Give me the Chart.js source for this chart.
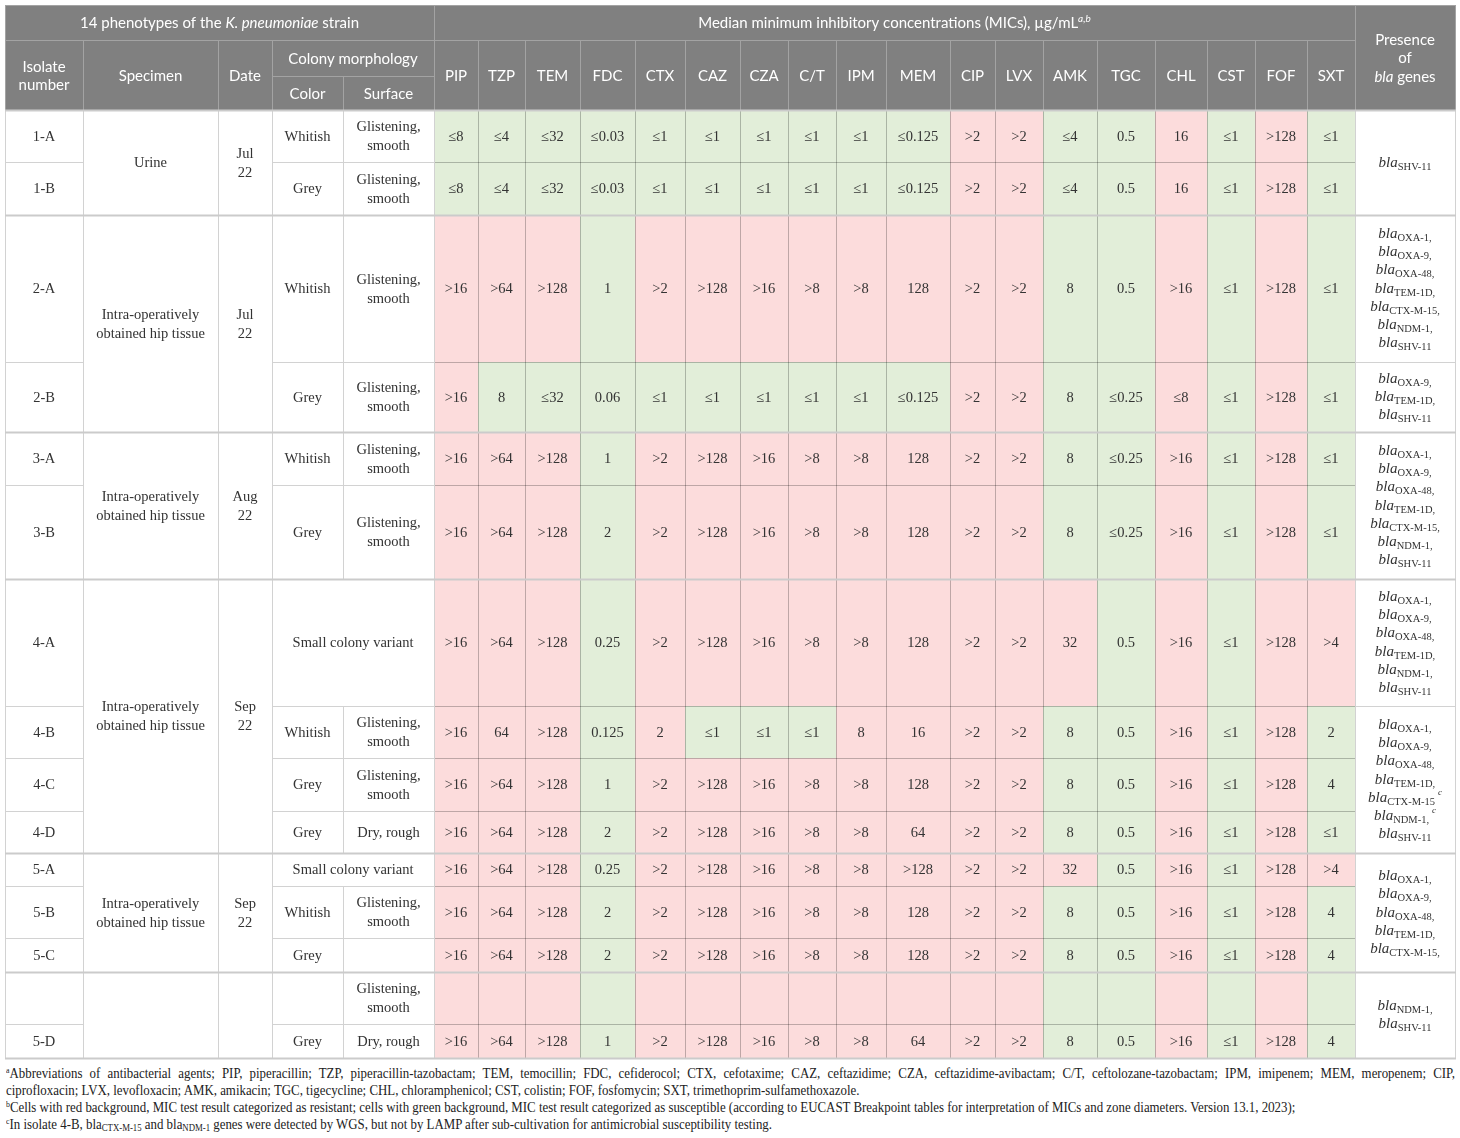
<!DOCTYPE html>
<html>
<head>
<meta charset="utf-8">
<title>MICs of 14 K. pneumoniae phenotypes</title>
<script src="https://cdn.jsdelivr.net/npm/chart.js@4.4.1/dist/chart.umd.min.js"></script>
<style>
  html, body { margin: 0; padding: 0; background: #fff; }
  #wrap { position: absolute; left: 0; top: 0; width: 1460px; height: 1062px; }
  #notes {
    position: absolute; left: 6px; top: 1065px; width: 1575px;
    transform: scaleX(0.92); transform-origin: 0 0;
    font-family: "Liberation Serif", "DejaVu Serif", serif;
    font-size: 14px; line-height: 17px; color: #222; white-space: nowrap;
  }
  #notes .just { text-align: justify; text-align-last: justify; }
  #notes sup { font-size: 8.5px; line-height: 0; vertical-align: 5px; }
  #notes sub { font-size: 9.5px; line-height: 0; vertical-align: -2px; }
</style>
</head>
<body>
<div id="wrap"><canvas id="chart" width="1460" height="1062"></canvas></div>
<div id="notes">
  <div class="just"><sup>a</sup>Abbreviations of antibacterial agents; PIP, piperacillin; TZP, piperacillin-tazobactam; TEM, temocillin; FDC, cefiderocol; CTX, cefotaxime; CAZ, ceftazidime; CZA, ceftazidime-avibactam; C/T, ceftolozane-tazobactam; IPM, imipenem; MEM, meropenem; CIP,</div>
  <div>ciprofloxacin; LVX, levofloxacin; AMK, amikacin; TGC, tigecycline; CHL, chloramphenicol; CST, colistin; FOF, fosfomycin; SXT, trimethoprim-sulfamethoxazole.</div>
  <div><sup>b</sup>Cells with red background, MIC test result categorized as resistant; cells with green background, MIC test result categorized as susceptible (according to EUCAST Breakpoint tables for interpretation of MICs and zone diameters. Version 13.1, 2023);</div>
  <div><sup>c</sup>In isolate 4-B, bla<sub>CTX-M-15</sub> and bla<sub>NDM-1</sub> genes were detected by WGS, but not by LAMP after sub-cultivation for antimicrobial susceptibility testing.</div>
</div>
<script>
// ---- data ----
const agents = ['PIP', 'TZP', 'TEM', 'FDC', 'CTX', 'CAZ', 'CZA', 'C/T', 'IPM', 'MEM', 'CIP', 'LVX', 'AMK', 'TGC', 'CHL', 'CST', 'FOF', 'SXT']

const isolates = ['1-A', '1-B', '2-A', '2-B', '3-A', '3-B', '4-A', '4-B', '4-C', '4-D', '5-A', '5-B', '5-C', '', '5-D']
const colonyColor = ['Whitish', 'Grey', 'Whitish', 'Grey', 'Whitish', 'Grey', 'Small colony variant', 'Whitish', 'Grey', 'Grey', 'Small colony variant', 'Whitish', 'Grey', '', 'Grey']
// null = merged with the colour cell
const colonySurface = ['Glistening,\nsmooth', 'Glistening,\nsmooth', 'Glistening,\nsmooth', 'Glistening,\nsmooth', 'Glistening,\nsmooth', 'Glistening,\nsmooth', null, 'Glistening,\nsmooth', 'Glistening,\nsmooth', 'Dry, rough', null, 'Glistening,\nsmooth', '', 'Glistening,\nsmooth', 'Dry, rough']

const specimens = ['Urine', 'Intra-operatively\nobtained hip tissue', 'Intra-operatively\nobtained hip tissue', 'Intra-operatively\nobtained hip tissue', 'Intra-operatively\nobtained hip tissue', '']
const dates = ['Jul\n22', 'Jul\n22', 'Aug\n22', 'Sep\n22', 'Sep\n22', '']
const specimenRows = [[0, 2], [2, 4], [4, 6], [6, 10], [10, 13], [13, 15]]

const mic1A = ['≤8', '≤4', '≤32', '≤0.03', '≤1', '≤1', '≤1', '≤1', '≤1', '≤0.125', '>2', '>2', '≤4', '0.5', '16', '≤1', '>128', '≤1']
const mic1B = ['≤8', '≤4', '≤32', '≤0.03', '≤1', '≤1', '≤1', '≤1', '≤1', '≤0.125', '>2', '>2', '≤4', '0.5', '16', '≤1', '>128', '≤1']
const mic2A = ['>16', '>64', '>128', '1', '>2', '>128', '>16', '>8', '>8', '128', '>2', '>2', '8', '0.5', '>16', '≤1', '>128', '≤1']
const mic2B = ['>16', '8', '≤32', '0.06', '≤1', '≤1', '≤1', '≤1', '≤1', '≤0.125', '>2', '>2', '8', '≤0.25', '≤8', '≤1', '>128', '≤1']
const mic3A = ['>16', '>64', '>128', '1', '>2', '>128', '>16', '>8', '>8', '128', '>2', '>2', '8', '≤0.25', '>16', '≤1', '>128', '≤1']
const mic3B = ['>16', '>64', '>128', '2', '>2', '>128', '>16', '>8', '>8', '128', '>2', '>2', '8', '≤0.25', '>16', '≤1', '>128', '≤1']
const mic4A = ['>16', '>64', '>128', '0.25', '>2', '>128', '>16', '>8', '>8', '128', '>2', '>2', '32', '0.5', '>16', '≤1', '>128', '>4']
const mic4B = ['>16', '64', '>128', '0.125', '2', '≤1', '≤1', '≤1', '8', '16', '>2', '>2', '8', '0.5', '>16', '≤1', '>128', '2']
const mic4C = ['>16', '>64', '>128', '1', '>2', '>128', '>16', '>8', '>8', '128', '>2', '>2', '8', '0.5', '>16', '≤1', '>128', '4']
const mic4D = ['>16', '>64', '>128', '2', '>2', '>128', '>16', '>8', '>8', '64', '>2', '>2', '8', '0.5', '>16', '≤1', '>128', '≤1']
const mic5A = ['>16', '>64', '>128', '0.25', '>2', '>128', '>16', '>8', '>8', '>128', '>2', '>2', '32', '0.5', '>16', '≤1', '>128', '>4']
const mic5B = ['>16', '>64', '>128', '2', '>2', '>128', '>16', '>8', '>8', '128', '>2', '>2', '8', '0.5', '>16', '≤1', '>128', '4']
const mic5C = ['>16', '>64', '>128', '2', '>2', '>128', '>16', '>8', '>8', '128', '>2', '>2', '8', '0.5', '>16', '≤1', '>128', '4']
const micBlank = ['', '', '', '', '', '', '', '', '', '', '', '', '', '', '', '', '', '']
const mic5D = ['>16', '>64', '>128', '1', '>2', '>128', '>16', '>8', '>8', '64', '>2', '>2', '8', '0.5', '>16', '≤1', '>128', '4']
const micRows = [mic1A, mic1B, mic2A, mic2B, mic3A, mic3B, mic4A, mic4B, mic4C, mic4D, mic5A, mic5B, mic5C, micBlank, mic5D]

// R = resistant (red), S = susceptible (green)
const micCategory = [
  'SSSSSSSSSSRRSSRSRS', 'SSSSSSSSSSRRSSRSRS',
  'RRRSRRRRRRRRSSRSRS', 'RSSSSSSSSSRRSSRSRS',
  'RRRSRRRRRRRRSSRSRS', 'RRRSRRRRRRRRSSRSRS',
  'RRRSRRRRRRRRRSRSRR', 'RRRSRSSSRRRRSSRSRS', 'RRRSRRRRRRRRSSRSRS', 'RRRSRRRRRRRRSSRSRS',
  'RRRSRRRRRRRRRSRSRR', 'RRRSRRRRRRRRSSRSRS', 'RRRSRRRRRRRRSSRSRS',
  'RRRSRRRRRRRRSSRSRS', 'RRRSRRRRRRRRSSRSRS'
]

const geneRows = [[0, 2], [2, 3], [3, 4], [4, 6], [6, 7], [7, 10], [10, 13], [13, 15]]
const genes = [
  ['SHV-11'],
  ['OXA-1,', 'OXA-9,', 'OXA-48,', 'TEM-1D,', 'CTX-M-15,', 'NDM-1,', 'SHV-11'],
  ['OXA-9,', 'TEM-1D,', 'SHV-11'],
  ['OXA-1,', 'OXA-9,', 'OXA-48,', 'TEM-1D,', 'CTX-M-15,', 'NDM-1,', 'SHV-11'],
  ['OXA-1,', 'OXA-9,', 'OXA-48,', 'TEM-1D,', 'NDM-1,', 'SHV-11'],
  ['OXA-1,', 'OXA-9,', 'OXA-48,', 'TEM-1D,', 'CTX-M-15^c', 'NDM-1,^c', 'SHV-11'],
  ['OXA-1,', 'OXA-9,', 'OXA-48,', 'TEM-1D,', 'CTX-M-15,'],
  ['NDM-1,', 'SHV-11']
]

// ---- layout (table units) ----
const colWidths = [78, 135, 54, 71, 91, 44, 47, 55, 55, 50, 55, 48, 48, 50, 64, 45, 48, 54, 58, 52, 48, 52, 48, 100]
const headHeights = [35, 36, 34]
const bodyHeights = [52, 53, 147, 70, 53, 94, 127, 52, 53, 42, 33, 52, 34, 52, 34]

const SERIF = '"Liberation Serif", "DejaVu Serif", serif'
const SANS = 'Lato, "Open Sans", "Noto Sans", sans-serif'
const RED = '#fcdcdc'
const GREEN = '#e2eed9'
const HEAD = '#808080'

const colEdge = [0]
colWidths.forEach(w => colEdge.push(colEdge[colEdge.length - 1] + w))
const rowEdge = [0]
headHeights.concat(bodyHeights).forEach(h => rowEdge.push(rowEdge[rowEdge.length - 1] + h))
const M = 5 // first MIC column
const H = headHeights.length

const micTable = {
  id: 'micTable',
  afterDraw(chart) {
    const ctx = chart.ctx
    const sx = chart.scales.x
    const sy = chart.scales.y
    const px = c => Math.round(sx.getPixelForValue(colEdge[c]))
    const py = r => Math.round(sy.getPixelForValue(rowEdge[r]))

    ctx.save()

    function fill(c0, c1, r0, r1, color) {
      ctx.fillStyle = color
      ctx.fillRect(px(c0), py(r0), px(c1) - px(c0), py(r1) - py(r0))
    }
    function frame(c0, c1, r0, r1, color) {
      ctx.strokeStyle = color
      ctx.lineWidth = 1
      ctx.strokeRect(px(c0) + 0.5, py(r0) + 0.5, px(c1) - px(c0), py(r1) - py(r0))
    }
    function hline(c0, c1, r, color, w) {
      ctx.strokeStyle = color
      ctx.lineWidth = w
      ctx.beginPath()
      ctx.moveTo(px(c0), py(r) + 0.5)
      ctx.lineTo(px(c1) + 1, py(r) + 0.5)
      ctx.stroke()
    }
    function lines(text, c0, c1, r0, r1, font, color, lh) {
      const parts = text.split('\n')
      const cx = (px(c0) + px(c1)) / 2
      const cy = (py(r0) + py(r1)) / 2 + 1
      ctx.font = font
      ctx.fillStyle = color
      ctx.textAlign = 'center'
      ctx.textBaseline = 'middle'
      parts.forEach((p, i) => ctx.fillText(p, cx, cy + (i - (parts.length - 1) / 2) * lh))
    }
    // runs of differently styled text, centred as one line
    function runs(list, cx, cy) {
      let total = 0
      list.forEach(r => { ctx.font = r.font; total += ctx.measureText(r.t).width })
      let x = cx - total / 2
      ctx.textAlign = 'left'
      ctx.textBaseline = 'middle'
      list.forEach(r => {
        ctx.font = r.font
        ctx.fillStyle = r.color || '#fff'
        ctx.fillText(r.t, x, cy + (r.dy || 0))
        x += ctx.measureText(r.t).width
      })
    }
    function gene(entry, cx, cy) {
      const [main, sup] = entry.split('^')
      const f1 = `italic 15px ${SERIF}`
      const f2 = `10.5px ${SERIF}`
      const f3 = `italic 9px ${SERIF}`
      ctx.font = f1
      const w1 = ctx.measureText('bla').width
      ctx.font = f2
      const w2 = ctx.measureText(main).width
      let w3 = 0
      if (sup) { ctx.font = f3; w3 = ctx.measureText(sup).width + 3 }
      const x0 = cx - (w1 + w2 + w3) / 2
      const base = cy + 4
      ctx.textAlign = 'left'
      ctx.textBaseline = 'alphabetic'
      ctx.fillStyle = '#333'
      ctx.font = f1
      ctx.fillText('bla', x0, base)
      ctx.font = f2
      ctx.fillText(main, x0 + w1, base + 3)
      if (sup) { ctx.font = f3; ctx.fillText(sup, x0 + w1 + w2 + 3, base - 7) }
    }

    // ---- header ----
    const last = colWidths.length
    fill(0, last, 0, H, HEAD)
    const hl = '#a3a3a3'
    frame(0, M, 0, 1, hl)
    frame(M, last - 1, 0, 1, hl)
    frame(last - 1, last, 0, H, hl)
    frame(0, 1, 1, H, hl)
    frame(1, 2, 1, H, hl)
    frame(2, 3, 1, H, hl)
    frame(3, 5, 1, 2, hl)
    frame(3, 4, 2, H, hl)
    frame(4, 5, 2, H, hl)
    agents.forEach((a, i) => frame(M + i, M + i + 1, 1, H, hl))

    const hf = `15px ${SANS}`
    const hfi = `italic 15px ${SANS}`
    runs([{ t: '14 phenotypes of the ', font: hf }, { t: 'K. pneumoniae', font: hfi }, { t: ' strain', font: hf }],
      (px(0) + px(M)) / 2, (py(0) + py(1)) / 2 + 1)
    runs([{ t: 'Median minimum inhibitory concentrations (MICs), µg/mL', font: hf }, { t: 'a,b', font: `italic 10px ${SANS}`, dy: -5 }],
      (px(M) + px(last - 1)) / 2, (py(0) + py(1)) / 2 + 1)
    const pcx = (px(last - 1) + px(last)) / 2
    const pcy = (py(0) + py(H)) / 2 + 1
    runs([{ t: 'Presence', font: hf }], pcx, pcy - 18.5)
    runs([{ t: 'of', font: hf }], pcx, pcy)
    runs([{ t: 'bla', font: hfi }, { t: ' genes', font: hf }], pcx, pcy + 18.5)
    lines('Isolate\nnumber', 0, 1, 1, H, hf, '#fff', 18.5)
    lines('Specimen', 1, 2, 1, H, hf, '#fff', 18.5)
    lines('Date', 2, 3, 1, H, hf, '#fff', 18.5)
    lines('Colony morphology', 3, 5, 1, 2, hf, '#fff', 18.5)
    lines('Color', 3, 4, 2, H, hf, '#fff', 18.5)
    lines('Surface', 4, 5, 2, H, hf, '#fff', 18.5)
    agents.forEach((a, i) => lines(a, M + i, M + i + 1, 1, H, hf, '#fff', 18.5))

    // ---- body ----
    const grid = '#d2d2d2'
    const bf = `14.5px ${SERIF}`
    const ink = '#333'
    micRows.forEach((row, r) => {
      row.forEach((v, i) => fill(M + i, M + i + 1, H + r, H + r + 1, micCategory[r][i] === 'R' ? RED : GREEN))
    })
    micRows.forEach((row, r) => {
      const rr = H + r
      row.forEach((v, i) => {
        frame(M + i, M + i + 1, rr, rr + 1, 'rgba(0,0,0,0.13)')
        if (v) lines(v, M + i, M + i + 1, rr, rr + 1, bf, ink, 19)
      })
      frame(0, 1, rr, rr + 1, grid)
      if (isolates[r]) lines(isolates[r], 0, 1, rr, rr + 1, bf, ink, 19)
      if (colonySurface[r] === null) {
        frame(3, 5, rr, rr + 1, grid)
        lines(colonyColor[r], 3, 5, rr, rr + 1, bf, ink, 19)
      } else {
        frame(3, 4, rr, rr + 1, grid)
        frame(4, 5, rr, rr + 1, grid)
        if (colonyColor[r]) lines(colonyColor[r], 3, 4, rr, rr + 1, bf, ink, 19)
        if (colonySurface[r]) lines(colonySurface[r], 4, 5, rr, rr + 1, bf, ink, 19)
      }
    })
    specimenRows.forEach(([a, b], g) => {
      frame(1, 2, H + a, H + b, grid)
      frame(2, 3, H + a, H + b, grid)
      if (specimens[g]) lines(specimens[g], 1, 2, H + a, H + b, bf, ink, 19)
      if (dates[g]) lines(dates[g], 2, 3, H + a, H + b, bf, ink, 19)
    })
    geneRows.forEach(([a, b], g) => {
      frame(last - 1, last, H + a, H + b, grid)
      const cx = (px(last - 1) + px(last)) / 2
      const cy = (py(H + a) + py(H + b)) / 2
      const n = genes[g].length
      genes[g].forEach((e, k) => gene(e, cx, cy + (k - (n - 1) / 2) * 18.3))
    })
    // group separators
    specimenRows.forEach(([a]) => hline(0, last, H + a, '#cbcbcb', 2))
    hline(0, last, rowEdge.length - 1, '#cbcbcb', 2)

    ctx.restore()
  }
}

const totalW = colEdge[colEdge.length - 1]
const totalH = rowEdge[rowEdge.length - 1]

new Chart(document.getElementById('chart'), {
  type: 'scatter',
  data: { datasets: [] },
  options: {
    responsive: false,
    animation: false,
    events: [],
    layout: { padding: { left: 5, right: 5, top: 5, bottom: 4 } },
    plugins: { legend: { display: false }, tooltip: { enabled: false } },
    scales: {
      x: { type: 'linear', min: 0, max: totalW, display: false },
      y: { type: 'linear', min: 0, max: totalH, reverse: true, display: false }
    }
  },
  plugins: [micTable]
})
</script>
</body>
</html>
